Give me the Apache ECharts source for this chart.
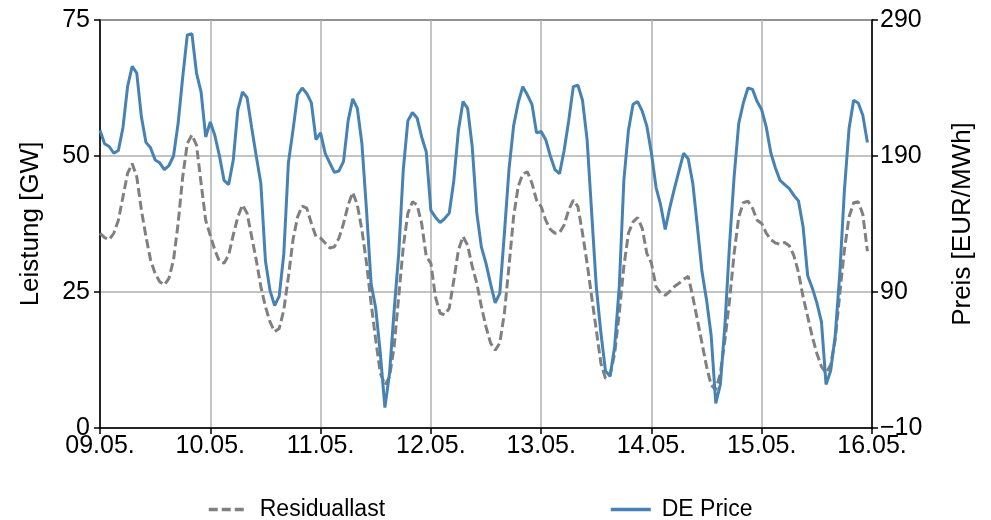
<!DOCTYPE html>
<html>
<head>
<meta charset="utf-8">
<script src="https://cdn.jsdelivr.net/npm/echarts@6/dist/echarts.min.js"></script>
<style>html,body{margin:0;padding:0;background:#fff;}#c{width:991px;height:520px;}</style>
</head>
<body>
<div id="c"></div>
<script>
const dayLabels = ['09.05.','10.05.','11.05.','12.05.','13.05.','14.05.','15.05.','16.05.'];
const leftTicks = [0, 25, 50, 75];
const rightTicks = [-10, 90, 190, 290];

// hourly values, 09.05. 00:00 ... 15.05. 23:00
const residuallast = [
  35.8,35.0,34.6,35.8,38.2,42.5,46.8,48.6,46.2,40.1,35.2,30.9,28.4,26.9,26.3,27.5,30.9,37.6,46.2,52.3,53.9,52.0,45.0,38.2,
  35.4,32.7,30.6,30.3,31.8,35.5,38.8,41.0,39.5,35.2,30.9,26.0,22.3,19.5,17.7,18.3,21.7,27.8,34.6,38.8,40.8,40.4,37.6,35.2,
  34.9,34.0,33.1,33.3,34.9,37.6,41.0,43.3,41.0,36.4,30.3,22.9,16.2,10.1,7.9,9.4,14.9,24.1,33.3,39.5,41.6,41.0,37.6,31.5,
  30.3,24.1,21.1,20.8,22.0,27.2,32.7,35.2,33.6,29.7,26.6,22.3,18.6,15.6,14.3,15.6,21.1,29.7,38.8,44.4,46.7,47.1,45.0,41.9,
  40.7,38.2,36.5,35.8,35.9,37.3,40.1,41.9,40.7,35.8,30.3,24.1,18.0,11.9,9.1,9.7,13.7,21.1,29.7,35.8,37.9,38.7,36.7,32.1,
  30.3,26.0,24.8,24.4,25.1,26.0,26.6,27.3,27.9,24.1,19.9,15.6,11.3,7.9,7.0,10.1,16.2,23.5,32.1,38.8,41.4,41.7,40.4,38.2,
  37.6,35.8,34.6,34.0,33.8,34.1,33.5,31.7,28.6,24.1,20.5,16.8,13.7,11.3,10.1,11.6,16.2,24.8,32.7,38.8,41.4,41.6,39.3,32.5
];
const dePrice = [
  209,199,197,192,194,211,241,256,251,219,200,196,187,185,180,183,190,214,248,279,280,251,237,204,
  215,205,190,172,169,187,224,237,233,211,190,170,113,91,80,87,118,185,209,235,240,236,229,202,
  207,192,185,178,179,186,216,232,225,199,150,96,78,45,5,30,76,118,180,216,222,218,204,193,
  150,145,141,144,148,172,209,230,225,197,148,123,111,96,82,89,133,180,212,229,241,235,228,207,
  208,202,190,180,177,194,216,241,242,231,202,148,94,60,32,28,50,94,172,209,228,230,223,212,
  192,167,154,136,152,166,179,192,188,170,138,105,84,58,8,22,66,125,175,214,229,240,239,230,
  224,211,192,181,172,169,166,161,157,138,102,93,82,68,22,32,58,104,165,210,231,229,220,200
];

const FONT = 'Liberation Sans, Arial, sans-serif';
const chart = echarts.init(document.getElementById('c'), null, {renderer: 'canvas'});
chart.setOption({
  animation: false,
  backgroundColor: '#fff',
  grid: {left: 100, right: 119, top: 20, bottom: 92, show: true, borderColor: '#000', borderWidth: 1.5, backgroundColor: 'transparent'},
  legend: [
    {data: ['Residuallast'], left: 202, top: 493, itemWidth: 38, itemHeight: 14,
     itemStyle: {opacity: 0}, lineStyle: {width: 3.5},
     textStyle: {fontFamily: FONT, fontSize: 23, color: '#000', padding: [0,0,0,8]}},
    {data: ['DE Price'], left: 604, top: 493, itemWidth: 40, itemHeight: 14,
     itemStyle: {opacity: 0}, lineStyle: {width: 3.5},
     textStyle: {fontFamily: FONT, fontSize: 23, color: '#000', padding: [0,0,0,6]}}
  ],
  xAxis: {
    type: 'value', min: 0, max: 168, interval: 24,
    axisLine: {show: true, lineStyle: {color: '#000', width: 1.5}},
    axisTick: {show: true, length: 6, lineStyle: {color: '#000', width: 1.5}},
    axisLabel: {fontFamily: FONT, fontSize: 25, color: '#000', margin: 6,
      formatter: v => dayLabels[Math.round(v / 24)]},
    splitLine: {show: true, lineStyle: {color: '#b0b0b0', width: 1.5}}
  },
  yAxis: [
    {type: 'value', min: 0, max: 75, interval: 25, position: 'left',
     name: 'Leistung [GW]', nameLocation: 'middle', nameRotate: 90, nameGap: 56,
     nameTextStyle: {fontFamily: FONT, fontSize: 26, color: '#000'},
     axisLine: {show: true, lineStyle: {color: '#000', width: 1.5}},
     axisTick: {show: true, length: 6, lineStyle: {color: '#000', width: 1.5}},
     axisLabel: {fontFamily: FONT, fontSize: 25, color: '#000', margin: 10,
       formatter: v => leftTicks.includes(v) ? String(v) : ''},
     splitLine: {show: true, lineStyle: {color: '#b0b0b0', width: 1.5}}},
    {type: 'value', min: -10, max: 290, interval: 100, position: 'right',
     name: 'Preis [EUR/MWh]', nameLocation: 'middle', nameRotate: 90, nameGap: 78,
     nameTextStyle: {fontFamily: FONT, fontSize: 26, color: '#000'},
     axisLine: {show: true, lineStyle: {color: '#000', width: 1.5}},
     axisTick: {show: true, length: 6, lineStyle: {color: '#000', width: 1.5}},
     axisLabel: {fontFamily: FONT, fontSize: 25, color: '#000', margin: 8,
       formatter: v => rightTicks.includes(v) ? String(v).replace('-', '\u2212') : ''},
     splitLine: {show: false}}
  ],
  series: [
    {name: 'Residuallast', type: 'line', yAxisIndex: 0, showSymbol: false, symbol: 'none',
     data: residuallast.map((v, i) => [i, v]), z: 2,
     lineStyle: {color: '#808080', width: 3, type: [9, 4]}, itemStyle: {color: '#808080'}},
    {name: 'DE Price', type: 'line', yAxisIndex: 1, showSymbol: false, symbol: 'none',
     data: dePrice.map((v, i) => [i, v]), z: 3,
     lineStyle: {color: '#4682b4', width: 3}, itemStyle: {color: '#4682b4'}}
  ]
});
</script>
</body>
</html>
